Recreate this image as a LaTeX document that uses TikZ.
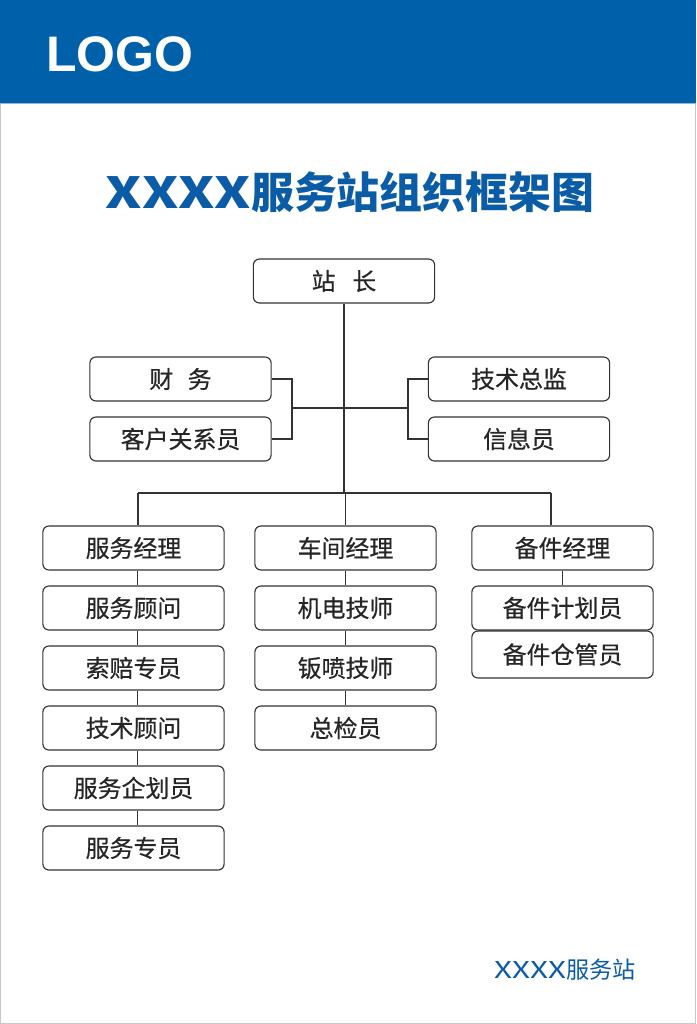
\documentclass[tikz,border=0pt]{standalone}
\usepackage{graphicx}
\usepackage{fontspec}
\setmainfont{Noto Sans CJK SC}
\newfontfamily\postfont{Noto Sans CJK SC}[FakeBold=0.5]
\newfontfamily\logofont{Liberation Sans}
\definecolor{hdblue}{RGB}{0,96,170}
\definecolor{ttblue}{RGB}{10,92,166}
\definecolor{boxline}{RGB}{51,51,51}
\tikzset{
  post/.style={draw=boxline, line width=0.8pt, rounded corners=4.3pt,
    minimum width=4.53cm, minimum height=1.1cm, inner sep=0pt,
    text=black!85, font=\postfont\fontsize{17}{20}\selectfont},
  link/.style={draw=boxline, line width=0.8pt},
}

\begin{document}
\begin{tikzpicture}[x=0.025cm,y=-0.025cm]
    \useasboundingbox (0,0) rectangle (696,1024);
    \fill[white] (0,0) rectangle (696,1024);
    \draw[black!22, line width=0.6pt] (0.5,0.5) rectangle (695.5,1023.5);
    \fill[hdblue] (0,0) rectangle (696,103);
    \draw[hdblue!45, line width=0.6pt] (0,103.5)--(696,103.5);
    \node[anchor=west, inner sep=0pt, text=white,
      font=\logofont\bfseries\fontsize{35.5}{40}\selectfont] (logo) at (46,54) {LOGO};
    \node[text=ttblue, font=\bfseries\fontsize{30.5}{36}\selectfont] (title)
      at (350,192) {\scalebox{1.29}[1]{XXXX}服务站组织框架图};
    \node[text=ttblue, font=\fontsize{16.5}{20}\selectfont] (foot)
      at (565,970) {\scalebox{1.35}[1]{XXXX}服务站};

    \node[post] (zz) at (344,281) {站\hspace{0.7em}长};
    \node[post] (cw) at (180.5,379) {财\hspace{0.6em}务};
    \node[post] (kh) at (180.5,439) {客户关系员};
    \node[post] (js) at (519,379) {技术总监};
    \node[post] (xx) at (519,439) {信息员};
    \foreach \i/\t in {1/服务经理,2/服务顾问,3/索赔专员,4/技术顾问,5/服务企划员,6/服务专员}
      \node[post] (fw\i) at (133.5,{488+60*\i}) {\t};
    \foreach \i/\t in {1/车间经理,2/机电技师,3/钣喷技师,4/总检员}
      \node[post] (cj\i) at (345.5,{488+60*\i}) {\t};
    \node[post] (bj1) at (562.5,548) {备件经理};
    \node[post] (bj2) at (562.5,608) {备件计划员};
    \node[post, minimum height=1.175cm] (bj3) at (562.5,654.5) {备件仓管员};

    \coordinate (lb) at (292,408);
    \coordinate (rb) at (408,408);
    \coordinate (bl) at (138,493);
    \coordinate (br) at (551,493);
    \draw[link] (cw.east) -| (lb) |- (kh.east);
    \draw[link] (js.west) -| (rb) |- (xx.west);
    \draw[link] (lb)--(rb);
    \draw[link] (zz.south)--(zz.south |- bl);
    \draw[link] (bl)--(br);
    \draw[link] (bl)--(bl |- fw1.north);
    \draw[link] (cj1.north |- bl)--(cj1.north);
    \draw[link] (br)--(br |- bj1.north);
    \foreach \a/\b in {fw1/fw2,fw2/fw3,fw3/fw4,fw4/fw5,fw5/fw6}
      \draw[link] ([xshift=1.1mm]\a.south)--([xshift=1.1mm]\b.north);
    \foreach \a/\b in {cj1/cj2,cj2/cj3,cj3/cj4}
      \draw[link] (\a.south)--(\b.north);
    \draw[link] (bj1.south)--(bj2.north);
\end{tikzpicture}
\end{document}
